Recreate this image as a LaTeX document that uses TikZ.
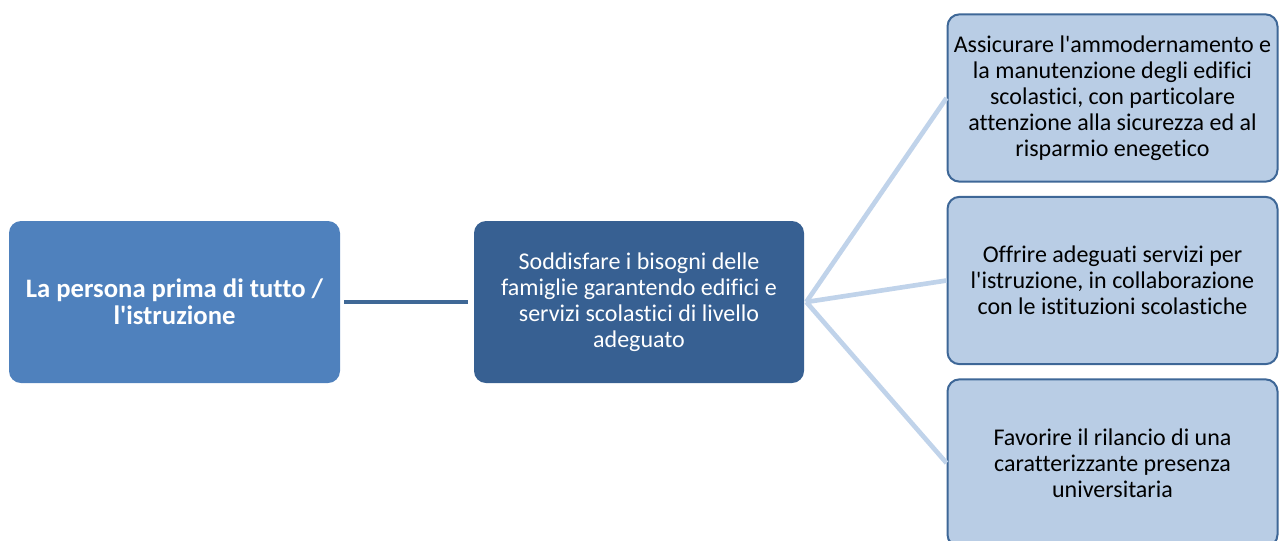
\documentclass[tikz,border=0pt]{standalone}
\usepackage{fontspec}
\setmainfont{Carlito}[Ligatures={TeXOff,CommonOff}]
\definecolor{lbox}{HTML}{4F81BD}
\definecolor{mbox}{HTML}{376092}
\definecolor{rbox}{HTML}{B9CDE5}
\definecolor{rborder}{HTML}{3E6797}
\definecolor{lline}{HTML}{3F6896}
\definecolor{rline}{HTML}{C0D3EA}
\begin{document}
\begin{tikzpicture}[x=0.75pt,y=-0.75pt,
  box/.style={rounded corners=9pt, align=center, inner sep=0pt,
    font=\fontsize{18}{19.5}\selectfont},
  leftbox/.style={box, fill=lbox, text=white, font=\fontsize{20}{20.2}\selectfont\bfseries,
    minimum width=248.25pt, minimum height=121.5pt},
  midbox/.style={box, fill=mbox, text=white,
    minimum width=247.5pt, minimum height=121.5pt},
  rightbox/.style={box, fill=rbox, draw=rborder, line width=1.5pt, text=black,
    minimum width=247.5pt, minimum height=125.5pt},
  darkline/.style={draw=lline, line width=3.5pt},
  lightline/.style={draw=rline, line width=3.5pt}]
\useasboundingbox (0,0) rectangle (1279,540);
\node[leftbox] (L) at (174.5,302) {La persona prima di tutto /\\l'istruzione};
\node[midbox] (M) at (639,302) {Soddisfare i bisogni delle\\famiglie garantendo edifici e\\servizi scolastici di livello\\adeguato};
\node[rightbox] (R1) at (1112.5,98) {Assicurare l'ammodernamento e\\la manutenzione degli edifici\\scolastici, con particolare\\attenzione alla sicurezza ed al\\risparmio enegetico};
\node[rightbox] (R2) at (1112.5,280.5) {Offrire adeguati servizi per\\l'istruzione, in collaborazione\\con le istituzioni scolastiche};
\node[rightbox] (R3) at (1112.5,463) {Favorire il rilancio di una\\caratterizzante presenza\\universitaria};
\draw[darkline] ([xshift=3pt]L.east) -- ([xshift=-4.5pt]M.east -| M.west);
\draw[lightline] ([xshift=1.5pt]M.east) -- (R1.west);
\draw[lightline] ([xshift=1.5pt]M.east) -- (R2.west);
\draw[lightline] ([xshift=1.5pt]M.east) -- (R3.west);
\end{tikzpicture}
\end{document}
